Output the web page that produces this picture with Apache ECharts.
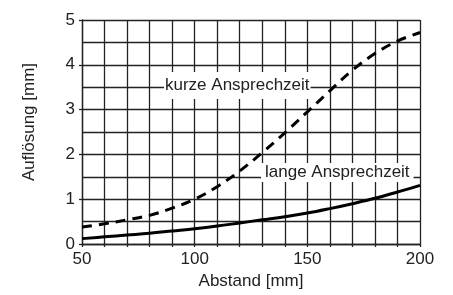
<!DOCTYPE html>
<html>
<head>
<meta charset="utf-8">
<script src="https://cdn.jsdelivr.net/npm/echarts@6/dist/echarts.min.js"></script>
<style>
  html, body { margin: 0; padding: 0; background: #fff; }
  #chart { width: 453px; height: 295px; }
</style>
</head>
<body>
<div id="chart"></div>
<script>
// Abstand [mm]
const abstand = [50, 60, 70, 80, 90, 100, 110, 120, 130, 140, 150, 160, 170, 180, 190, 200];
// kurze Ansprechzeit (gestrichelt)
const kurze = [0.38, 0.45, 0.54, 0.64, 0.8, 1.0, 1.28, 1.63, 2.04, 2.48, 2.95, 3.42, 3.88, 4.25, 4.53, 4.72];
// lange Ansprechzeit (durchgezogen)
const lange = [0.12, 0.16, 0.2, 0.24, 0.29, 0.34, 0.4, 0.47, 0.54, 0.61, 0.69, 0.79, 0.9, 1.02, 1.16, 1.31];

const font = 'Liberation Sans, Arial, sans-serif';
const gridColor = '#222';
const textColor = '#222';

const chart = echarts.init(document.getElementById('chart'));
chart.setOption({
    animation: false,
    grid: { left: 82, right: 33, top: 20, bottom: 49 },
    xAxis: {
        type: 'value',
        min: 50, max: 200, interval: 10,
        name: 'Abstand [mm]',
        nameLocation: 'middle',
        nameGap: 29,
        nameTextStyle: { color: textColor, fontSize: 17, fontFamily: font },
        axisLine: { show: true, lineStyle: { color: gridColor, width: 1.3 } },
        axisTick: { show: true, length: 3, lineStyle: { color: gridColor, width: 1.3 } },
        axisLabel: {
            color: textColor, fontSize: 17, fontFamily: font, margin: 7,
            formatter: v => (v % 50 === 0 ? String(v) : '')
        },
        splitLine: { show: true, lineStyle: { color: gridColor, width: 1.3 } }
    },
    yAxis: [
        {
            type: 'value',
            min: 0, max: 5, interval: 0.5,
            name: 'Auflösung [mm]',
            nameLocation: 'middle',
            nameGap: 44,
            nameTextStyle: { color: textColor, fontSize: 17, fontFamily: font, padding: [0, 0, 0, 20] },
            axisLine: { show: true, lineStyle: { color: gridColor, width: 1.3 } },
            axisTick: { show: false },
            axisLabel: {
                color: textColor, fontSize: 17, fontFamily: font, margin: 7,
                formatter: v => (Number.isInteger(v) ? String(v) : '')
            },
            splitLine: { show: true, lineStyle: { color: gridColor, width: 1.3 } }
        },
        {
            type: 'value',
            position: 'left',
            min: 0, max: 5, interval: 1,
            axisLine: { show: false },
            axisTick: { show: true, length: 3, lineStyle: { color: gridColor, width: 1.3 } },
            axisLabel: { show: false },
            splitLine: { show: false }
        }
    ],
    series: [
        {
            name: 'kurze Ansprechzeit',
            type: 'line',
            smooth: 0.4,
            showSymbol: false,
            data: abstand.map((x, i) => [x, kurze[i]]),
            lineStyle: { color: '#000', width: 3, type: [10, 7] },
            z: 5
        },
        {
            name: 'lange Ansprechzeit',
            type: 'line',
            smooth: 0.4,
            showSymbol: false,
            data: abstand.map((x, i) => [x, lange[i]]),
            lineStyle: { color: '#000', width: 3 },
            z: 5
        }
    ],
    graphic: [
        {
            type: 'text', left: 164, top: 72, z: 10,
            style: {
                text: 'kurze Ansprechzeit', font: '17px ' + font, fill: textColor,
                backgroundColor: '#fff', padding: [5, 1, 5, 1]
            }
        },
        {
            type: 'text', left: 261, top: 163, z: 10,
            style: {
                text: 'lange Ansprechzeit', font: '17px ' + font, fill: textColor,
                backgroundColor: '#fff', padding: [1, 4, 1, 4]
            }
        }
    ]
});
</script>
</body>
</html>
